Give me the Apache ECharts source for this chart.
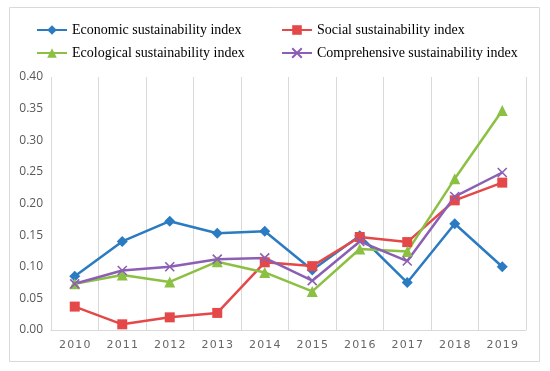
<!DOCTYPE html>
<html><head><meta charset="utf-8">
<script src="https://cdn.jsdelivr.net/npm/echarts@6/dist/echarts.min.js"></script>
<style>html,body{margin:0;padding:0;background:#fff}#c{width:550px;height:371px}</style>
</head><body><div id="c"></div>
<script>
const years = ['2010','2011','2012','2013','2014','2015','2016','2017','2018','2019'];
const economic = [0.085,0.140,0.172,0.153,0.156,0.095,0.149,0.075,0.168,0.100];
const social = [0.037,0.009,0.020,0.027,0.107,0.101,0.147,0.139,0.205,0.233];
const ecological = [0.073,0.087,0.076,0.108,0.091,0.061,0.128,0.124,0.239,0.347];
const comprehensive = [0.073,0.094,0.100,0.112,0.114,0.078,0.140,0.109,0.211,0.249];
const yTicks = [0, 0.05, 0.10, 0.15, 0.20, 0.25, 0.30, 0.35, 0.40];

const xPath = 'path://M0,0 L10,10 M10,0 L0,10';
const chart = echarts.init(document.getElementById('c'));
function ser(name, data, color, symbol, size){
  return {name, type:'line', data, symbol, symbolSize:size,
    lineStyle:{color, width:2.5}, itemStyle:{color, borderColor:color, borderWidth: symbol===xPath?1.6:0},
    emphasis:{disabled:true}};
}
const legendText = {fontFamily:'Liberation Serif', fontSize:14, color:'#000'};
chart.setOption({
  animation:false,
  graphic:[{type:'rect', shape:{x:9.5,y:7.5,width:530,height:354}, style:{fill:'none', stroke:'#d9d9d9', lineWidth:1}}],
  legend:[
    {data:['Economic sustainability index','Ecological sustainability index'], orient:'vertical', left:36, top:23, padding:0, itemGap:9, itemWidth:30, itemHeight:12, textStyle:legendText},
    {data:['Social sustainability index','Comprehensive sustainability index'], orient:'vertical', left:281, top:23, padding:0, itemGap:9, itemWidth:30, itemHeight:12, textStyle:legendText}
  ],
  grid:{left:51, right:24, top:77, bottom:41},
  xAxis:{type:'category', data:years, boundaryGap:true,
    axisLine:{lineStyle:{color:'#d9d9d9', width:1}}, axisTick:{show:false},
    splitLine:{show:true, lineStyle:{color:'#d9d9d9', width:1}},
    axisLabel:{color:'#666', fontSize:11, fontFamily:'DejaVu Sans', margin:10,
      formatter:v=>v.split('').join('\u200a')}},
  yAxis:{type:'value', min:0, max:0.4, interval:0.05,
    axisLine:{show:false}, axisTick:{show:false}, splitLine:{show:false},
    axisLabel:{color:'#595959', fontSize:12, fontFamily:'Open Sans', margin:8, formatter:v=>v.toFixed(2)}},
  series:[
    ser('Economic sustainability index', economic, '#2a7bc1', 'diamond', 11),
    ser('Social sustainability index', social, '#e54848', 'rect', 10),
    ser('Ecological sustainability index', ecological, '#8cc043', 'triangle', 11),
    ser('Comprehensive sustainability index', comprehensive, '#8b5fb4', xPath, 9)
  ]
});
</script></body></html>
